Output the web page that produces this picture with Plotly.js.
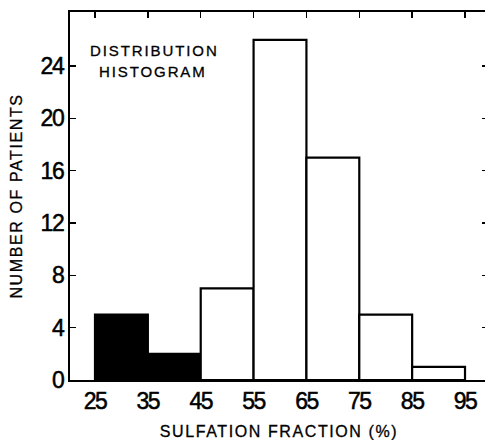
<!DOCTYPE html>
<html>
<head>
<meta charset="utf-8">
<script src="https://cdn.plot.ly/plotly-3.0.1.min.js"></script>
<style>
html, body { margin: 0; padding: 0; overflow: hidden; background: #fff; }
.xtitle, .ytitle { letter-spacing: 1.6px; stroke: black; stroke-width: 0.3px; }
.annotation-text { letter-spacing: 1.9px; stroke: black; stroke-width: 0.3px; }
.xtick text, .ytick text { letter-spacing: -1.5px; stroke: black; stroke-width: 0.5px; }
</style>
</head>
<body>
<div id="chart"></div>
<script>
// Bin lower edges (sulfation fraction, %) and patient counts
const binStart = [25, 35, 45, 55, 65, 75, 85];
const binWidth = 10;
const counts = [5, 2, 7, 26, 17, 5, 1];
const binFill = ["black", "black", "white", "white", "white", "white", "white"];

const xTicks = [25, 35, 45, 55, 65, 75, 85, 95];
const xTickText = ["25", "35", "45", "55", "65", "75", "85", "95"];
const yTicks = [0, 4, 8, 12, 16, 20, 24];
const yTickText = ["0", "4", "8", "12", "16", "20", "24"];

const xTitle = "SULFATION FRACTION (%)";
const yTitle = "NUMBER OF PATIENTS";
const note1 = "DISTRIBUTION";
const note2 = "HISTOGRAM";

const trace = {
  type: "bar",
  x: binStart,
  y: counts,
  width: binStart.map(() => binWidth),
  offset: 0,
  marker: { color: binFill, line: { color: "black", width: 2.2 } },
  hoverinfo: "skip"
};

const tickFont = { family: "Liberation Sans Narrow, Arial Narrow, sans-serif", size: 23, color: "black" };
const titleFont = { family: "Liberation Sans, Arial, sans-serif", size: 16, color: "black" };
const noteFont = { family: "Liberation Sans, Arial, sans-serif", size: 15, color: "black" };

const layout = {
  width: 490,
  height: 440,
  margin: { l: 70, r: 2, t: 12, b: 60 },
  paper_bgcolor: "white",
  plot_bgcolor: "white",
  showlegend: false,
  bargap: 0,
  xaxis: {
    range: [20.27, 99.35],
    tickvals: xTicks,
    ticktext: xTickText,
    ticks: "inside",
    ticklen: 6,
    tickwidth: 1.5,
    tickcolor: "black",
    ticklabelstandoff: -1,
    showline: true,
    linecolor: "black",
    linewidth: 2.2,
    mirror: "ticks",
    showgrid: false,
    zeroline: false,
    tickfont: tickFont,
    title: { text: xTitle, font: titleFont, standoff: 13 },
    automargin: false,
    fixedrange: true
  },
  yaxis: {
    range: [0, 28.13],
    tickvals: yTicks,
    ticktext: yTickText,
    ticks: "inside",
    ticklen: 6,
    tickwidth: 1.5,
    tickcolor: "black",
    showline: true,
    linecolor: "black",
    linewidth: 2.2,
    mirror: "ticks",
    showgrid: false,
    zeroline: false,
    tickfont: tickFont,
    title: { text: yTitle, font: titleFont, standoff: 14 },
    automargin: false,
    fixedrange: true
  },
  annotations: [
    { x: 23.68, y: 25.15, xref: "x", yref: "y", text: note1, showarrow: false,
      xanchor: "left", yanchor: "middle", font: noteFont },
    { x: 25.38, y: 23.62, xref: "x", yref: "y", text: note2, showarrow: false,
      xanchor: "left", yanchor: "middle", font: noteFont }
  ]
};

Plotly.newPlot("chart", [trace], layout, { displayModeBar: false, staticPlot: true });
</script>
</body>
</html>
